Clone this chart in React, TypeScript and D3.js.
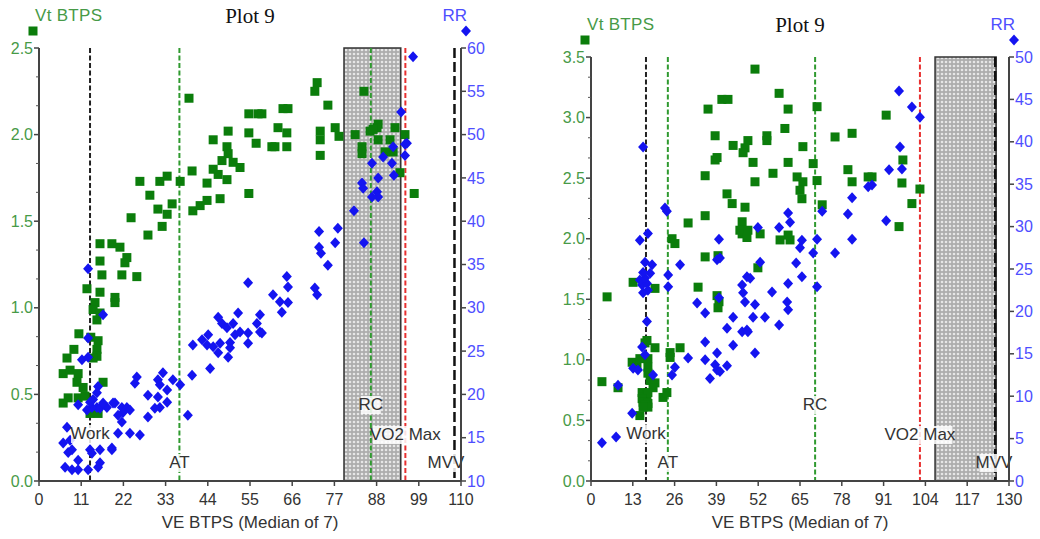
import React from 'react';
import * as d3 from 'd3';

// VE BTPS vs Vt BTPS (green squares) and RR (blue diamonds)
const leftVt: [number, number][] = [
  [39.1, 2.21], [54.7, 2.12], [57.1, 2.12], [49.3, 2.02], [45.4, 1.97], [54.7, 2.01], [56.6, 1.95], [49, 1.93],
  [49.3, 1.89], [47.7, 1.85], [50.6, 1.84], [52.4, 1.81], [45.4, 1.8], [46.7, 1.77], [49, 1.74], [39.9, 1.79],
  [43.8, 1.72], [36.8, 1.73], [33.4, 1.76], [31.5, 1.73], [26.3, 1.73], [28.9, 1.65], [34.7, 1.6], [31, 1.57],
  [33.4, 1.54], [32.1, 1.47], [28.4, 1.42], [24, 1.52], [40.1, 1.56], [42, 1.59], [43.8, 1.62], [47.2, 1.63],
  [54.7, 1.66], [15.9, 1.37], [19, 1.37], [21.1, 1.35], [22.9, 1.29], [22.4, 1.26], [15.9, 1.27],
  [16.4, 1.19], [21.6, 1.19], [25.5, 1.18], [12.5, 1.11], [15.9, 1.09], [19.8, 1.06], [19.8, 1.03], [14.6, 1.03],
  [14.1, 0.99], [15.1, 0.93], [15.9, 0.97], [10.4, 0.85], [13.5, 0.83], [15.4, 0.81], [15.1, 0.76], [15.1, 0.72],
  [14.1, 0.71], [9.1, 0.76], [7.3, 0.71], [6.3, 0.62], [8.1, 0.64], [10.2, 0.62], [9.9, 0.57], [11.5, 0.54],
  [10.2, 0.48], [6.3, 0.45], [7.6, 0.48], [16.7, 0.57], [13.3, 0.39], [15.4, 0.39], [12, 0.49],
  [72.5, 2.3], [71.9, 2.25], [75.3, 2.17], [58.1, 2.12], [63.6, 2.15], [64.9, 2.15], [62.3, 2.04], [64.6, 2.01],
  [64.6, 1.93], [60.7, 1.93], [61.5, 1.93], [73.3, 2.02], [73.3, 1.97], [73.3, 1.88], [77.2, 2.04], [78.2, 1.99],
  [82.4, 2.0], [84.7, 2.25], [88.4, 2.06], [88.1, 2.04], [86.3, 2.02], [87.1, 2.03], [88.4, 1.97], [84.2, 1.93],
  [84.2, 1.89], [91.5, 1.97], [92.3, 1.9], [92.8, 2.04], [95.4, 2.0], [90.2, 1.9], [94.1, 1.78], [97.8, 1.66],
];

const leftRR: [number, number][] = [
  [97.5, 59], [94.4, 52.6], [92.3, 48.6], [95.4, 48.9], [95.9, 49.0], [95.4, 47.6], [89.7, 47.4], [92, 46.7],
  [86.8, 46.7], [92.5, 45.3], [88.4, 45], [84.2, 44.4], [84.5, 43.8], [88.1, 43.4], [88.4, 42.8], [86.8, 42.8],
  [82.1, 41.2], [84.7, 37.5], [73, 38.8], [77.9, 39.2], [77.2, 37.5], [73, 37], [73.5, 36.3], [75.3, 34.9],
  [64.6, 33.6], [64.9, 32.4], [61, 31.5], [62.8, 30.7], [64.9, 30.6], [63.3, 29.5], [57.6, 29.2], [58.1, 27.1],
  [71.9, 32.3], [72.5, 31.5],
  [12.8, 34.5], [54.5, 32.9], [51.9, 29.4], [46.7, 28.9], [47.7, 28.2], [49, 27.7], [50.6, 28.2], [44.1, 26.9],
  [42.5, 26.3], [40.1, 25.7], [43.8, 25.7], [45.4, 25.5], [47.2, 25.9], [49.8, 26], [49.8, 25.4], [51.1, 26.9],
  [52.4, 27.2], [56.8, 28.2], [57.6, 27.2], [54.5, 27.1], [54.5, 25.9], [46.7, 24.8], [49.3, 24.3], [44.6, 23],
  [39.9, 22.2], [36.8, 21.1], [34.9, 21.7], [32.3, 22.5], [31, 21.7], [31.5, 21.1], [33.4, 20.5], [31, 19.7],
  [33.4, 19.1], [31.5, 18.5], [30.2, 18.4], [28.4, 19.9], [28.4, 17.4], [38.8, 17.6], [25.5, 22], [25, 21.3],
  [21.6, 18.5], [22.9, 18.5], [23.7, 18.2], [21.9, 17.9], [21.6, 16.8], [20.6, 17.6], [19.8, 19], [19.3, 19],
  [17.7, 18.5], [20.6, 15.5], [23.7, 15.5], [26.3, 15.3], [19, 13.8], [15.4, 20.9], [15.1, 20.2], [14.1, 19.4],
  [15.1, 18.5], [15.9, 18.4], [16.7, 19], [13.8, 18.5], [10.2, 18.8], [13.3, 19.1], [12.5, 18.2], [12.8, 26.5],
  [11.2, 24], [12.8, 24.3], [16.7, 29.2],
  [6.3, 14.4], [7.6, 13.3], [8.6, 13.6], [10.2, 12.4], [6.8, 11.6], [8.6, 11.3], [10.2, 11.3], [12.8, 11.3],
  [13.3, 13.6], [13.8, 13.2], [15.9, 13.6], [15.9, 12.1], [15.4, 11.6], [19, 13.6], [7.3, 16.2], [8.1, 14.7],
];

const rightVt: [number, number][] = [
  [51, 3.4], [36.4, 3.07], [40.7, 3.15], [42.6, 3.15], [58.5, 3.2], [61.3, 3.07], [60.3, 2.91], [38.6, 2.85],
  [54.7, 2.85], [54.7, 2.81], [44.2, 2.77], [48.8, 2.81], [47.9, 2.75], [47.3, 2.71], [39.2, 2.67], [38.6, 2.65],
  [50.4, 2.63], [61.3, 2.63], [65.9, 2.76], [56.6, 2.54], [35.5, 2.52], [64.1, 2.51], [65.9, 2.47], [51, 2.47],
  [42.3, 2.37], [43.9, 2.29], [47.9, 2.26], [65, 2.4], [65.6, 2.33], [35.5, 2.19], [30.2, 2.13], [47, 2.14],
  [46.3, 2.07], [47, 2.04], [48.8, 2.07], [48.5, 2.01], [52.6, 2.04], [58.8, 1.99], [61.9, 1.99], [61.3, 2.03],
  [25.2, 2.0], [26.1, 1.96], [35.5, 1.85], [39.5, 1.86], [51.9, 1.76],
  [70.3, 3.09], [75.9, 2.84], [81.2, 2.87], [91.8, 3.02], [69.1, 2.62], [70.3, 2.48], [79.9, 2.57], [81.2, 2.47],
  [86.2, 2.51], [87.4, 2.51], [97, 2.65], [96.7, 2.46], [102.3, 2.41], [99.8, 2.29], [95.8, 2.1], [71.9, 2.28],
  [13.1, 1.64], [5, 1.52], [19.9, 1.59], [33.3, 1.6], [39.2, 1.53], [39.8, 1.48], [39.5, 1.43], [17.4, 1.16],
  [16.8, 1.14], [19.9, 1.1], [27.7, 1.1], [24.6, 1.06], [24.6, 1.02], [12.8, 0.98], [14.3, 0.96], [15.2, 1.01],
  [17.7, 1.01], [3.4, 0.82], [8.4, 0.77], [17.7, 0.94], [17.7, 0.89], [18.4, 0.83], [19.9, 0.81], [19.3, 0.77],
  [15.9, 0.73], [16.2, 0.69], [17.4, 0.71], [17.7, 0.73], [15.9, 0.68], [16.2, 0.65], [17.7, 0.64], [16.8, 0.63],
  [17.7, 0.61], [16.2, 0.61], [15.2, 0.54], [22.4, 0.69], [23.6, 0.73],
];

const rightRR: [number, number][] = [
  [16.2, 39.4], [23, 32.2], [23.6, 31.8], [17.7, 29.2], [15.2, 28.4], [39.8, 28.5], [51.9, 29.9], [58.5, 29.9],
  [61.3, 31.6], [61.9, 30.5], [65.6, 28.4], [65, 27.5], [16.8, 25.8], [19, 25.5], [27.7, 25.5], [39.2, 26.1],
  [40.1, 26.3], [52.6, 25.8], [63.8, 25.7],
  [95.8, 46], [99.8, 44.1], [102.3, 42.9], [96.1, 39.4], [92.7, 36.7], [96.7, 36.8], [86.2, 34.7], [87.4, 34.9],
  [81.2, 33.4], [71.9, 31.8], [79.9, 31.5], [91.8, 30.7], [81.2, 28.5], [70.3, 28.5], [69.1, 26.9], [75.9, 26.9],
  [65.6, 24.1], [70.3, 22.9],
  [3.4, 4.5], [7.8, 5.2], [12.8, 8], [8.4, 11.3], [13.1, 13.3], [14.6, 13.1], [15.9, 15.8], [16.8, 14.9],
  [19.3, 12.5], [17.4, 18.8], [15.9, 23.1], [17.4, 23.3], [17.7, 22.5], [16.2, 22.2], [15.2, 23.7], [16.8, 23.9],
  [18.4, 24.5], [16.2, 24.6], [24, 22.9], [24, 24.3], [26.1, 13.4], [25.2, 12.5], [30.2, 14.5], [33, 21],
  [35.5, 19.8], [35.5, 16.4], [35.5, 14.3], [37, 12.1], [38.6, 13.7], [39.2, 13.1], [40.1, 12.9], [42.3, 13.6],
  [39.2, 15.1], [39.8, 21.6], [42.3, 18], [44.2, 19.3], [44.2, 16], [47, 23.1], [47.3, 22.2], [47.9, 21.1],
  [47, 17.6], [48.5, 17.8], [48.8, 17.6], [48.5, 24.1], [49.5, 23.9], [51, 20.8], [50.4, 19.3], [51, 15.1],
  [54.1, 19.3], [56.3, 22.3], [58.5, 18.4], [61, 21.1], [61.3, 20.2], [61.3, 23.3],
];

// threshold lines: Work, AT, RC, VO2 Max, MVV
const markerNames = ['Work', 'AT', 'RC', 'VO2 Max', 'MVV'];
const leftMarkerValues = [13.3, 36.6, 86.5, 95.5, 108.3];
const rightMarkerValues = [17.1, 23.9, 69.7, 102.3, 125.7];
// shaded band (VE range)
const leftBand: [number, number] = [79.5, 94.3];
const rightBand: [number, number] = [107, 126];

const leftXTicks = d3.range(0, 111, 11);
const rightXTicks = d3.range(0, 131, 13);
const leftVtTicks = [0, 0.5, 1.0, 1.5, 2.0, 2.5];
const rightVtTicks = [0, 0.5, 1.0, 1.5, 2.0, 2.5, 3.0, 3.5];
const leftRRTicks = d3.range(10, 61, 5);
const rightRRTicks = d3.range(0, 51, 5);

const GREEN = '#0b7d0b';
const BLUE = '#1414f0';
const GREEN_TXT = '#479a47';
const BLUE_TXT = '#4e4eff';
const SANS = 'Liberation Sans, Arial, sans-serif';

const markerStyle: Record<string, { color: string; dash: string; w: number; dy: number }> = {
  Work: { color: '#222', dash: '5,2.5', w: 2, dy: -42 },
  AT: { color: '#2f9a2f', dash: '5,2.5', w: 2, dy: -13 },
  RC: { color: '#2f9a2f', dash: '5,2.5', w: 2, dy: -71 },
  'VO2 Max': { color: '#e83030', dash: '5,2.5', w: 2, dy: -41 },
  MVV: { color: '#111', dash: '10,4', w: 2.5, dy: -13 },
};

interface PanelProps {
  id: string;
  x0: number; x1: number; top: number; bottom: number;
  xTicks: number[]; vtTicks: number[]; rrTicks: number[];
  vt: [number, number][]; rr: [number, number][];
  markers: number[]; band: [number, number];
}

const fmt1 = d3.format('.1f');

const Panel: React.FC<PanelProps> = ({ id, x0, x1, top, bottom, xTicks, vtTicks, rrTicks, vt, rr, markers, band }) => {
  const x = d3.scaleLinear().domain([0, xTicks[xTicks.length - 1]]).range([x0, x1]);
  const yVt = d3.scaleLinear().domain([0, vtTicks[vtTicks.length - 1]]).range([bottom, top]);
  const yRR = d3.scaleLinear().domain([rrTicks[0], rrTicks[rrTicks.length - 1]]).range([bottom, top]);
  const step = vtTicks[1] - vtTicks[0];
  const minor = d3.range(0, vtTicks[vtTicks.length - 1], step / 3).filter((_, i) => i % 3 !== 0);
  const cx = (x0 + x1) / 2;
  const diamond = 'M0,-5.5L5,0L0,5.5L-5,0Z';

  return (
    <g>
      <defs>
        <pattern id={`dots-${id}`} width={4} height={4} patternUnits="userSpaceOnUse">
          <rect width={4} height={4} fill="#adadad" />
          <circle cx={2} cy={2} r={1.3} fill="#e6e6e6" />
        </pattern>
      </defs>
      {/* title + legend */}
      <text x={cx} y={top - 25} textAnchor="middle" fontFamily="Liberation Serif, Times New Roman, serif" fontSize={21} fill="#111">Plot 9</text>
      <text x={x0 - 4} y={top - 27} fontFamily={SANS} fontSize={17} fill={GREEN_TXT} textLength={67}>Vt BTPS</text>
      <rect x={x0 - 10.5} y={top - 21.5} width={9} height={9} fill={GREEN} />
      <text x={x1 + 6} y={top - 27} textAnchor="end" fontFamily={SANS} fontSize={17} fill={BLUE_TXT}>RR</text>
      <path d={diamond} transform={`translate(${x1 + 5},${top - 17})`} fill={BLUE} />

      {/* shaded band */}
      <rect x={x(band[0])} y={top} width={x(band[1]) - x(band[0])} height={bottom - top}
        fill={`url(#dots-${id})`} stroke="#333" strokeWidth={1.5} />

      {/* threshold lines */}
      {markers.map((v, i) => {
        const s = markerStyle[markerNames[i]];
        return (
          <line key={`m${i}`} x1={x(v)} x2={x(v)} y1={top} y2={bottom} stroke={s.color}
            strokeWidth={s.w} strokeDasharray={s.dash} />
        );
      })}

      {/* data */}
      {vt.map((d, i) => (
        <rect key={`v${i}`} x={x(d[0]) - 4.5} y={yVt(d[1]) - 4.5} width={9} height={9} fill={GREEN} />
      ))}
      {rr.map((d, i) => (
        <path key={`r${i}`} d={diamond} transform={`translate(${x(d[0])},${yRR(d[1])})`} fill={BLUE} />
      ))}

      {/* threshold labels */}
      {markers.map((v, i) => {
        const name = markerNames[i];
        const s = markerStyle[name];
        const w = name.length * 9 + 2;
        let lx = x(v);
        if (name === 'MVV') lx = Math.min(lx, x1 - 15);
        const ly = bottom + s.dy;
        return (
          <g key={`l${i}`}>
            <rect x={lx - w / 2} y={ly - 14} width={w} height={18} fill="#fff" opacity={0.85} />
            <text x={lx} y={ly} textAnchor="middle" fontFamily={SANS} fontSize={17} fill="#333">{name}</text>
          </g>
        );
      })}

      {/* axes */}
      <line x1={x0} x2={x0} y1={top} y2={bottom} stroke="#444" strokeWidth={2} />
      <line x1={x1} x2={x1} y1={top} y2={bottom} stroke="#444" strokeWidth={2} />
      <line x1={x0} x2={x1} y1={bottom} y2={bottom} stroke="#444" strokeWidth={2} />

      {vtTicks.map(t => (
        <g key={`vt${t}`}>
          <line x1={x0 - 5} x2={x0} y1={yVt(t)} y2={yVt(t)} stroke="#444" strokeWidth={1.5} />
          <text x={x0 - 6} y={yVt(t)} dy="0.35em" textAnchor="end" fontFamily={SANS} fontSize={16} fill={GREEN_TXT}>{fmt1(t)}</text>
        </g>
      ))}
      {minor.map((t, i) => (
        <line key={`mn${i}`} x1={x0 - 3} x2={x0} y1={yVt(t)} y2={yVt(t)} stroke="#555" strokeWidth={1} />
      ))}
      {rrTicks.map(t => (
        <g key={`rr${t}`}>
          <line x1={x1} x2={x1 + 5} y1={yRR(t)} y2={yRR(t)} stroke="#444" strokeWidth={1.5} />
          <text x={x1 + 6} y={yRR(t)} dy="0.35em" fontFamily={SANS} fontSize={16} fill={BLUE_TXT}>{t}</text>
        </g>
      ))}
      {xTicks.map(t => (
        <g key={`x${t}`}>
          <line x1={x(t)} x2={x(t)} y1={bottom} y2={bottom + 5} stroke="#444" strokeWidth={1.5} />
          <text x={x(t)} y={bottom + 24} textAnchor="middle" fontFamily={SANS} fontSize={16} fill="#333">{t}</text>
        </g>
      ))}
      <text x={cx} y={bottom + 47} textAnchor="middle" fontFamily={SANS} fontSize={17} fill="#333">VE BTPS (Median of 7)</text>
    </g>
  );
};

const App: React.FC = () => (
  <svg width={1040} height={539} style={{ position: 'absolute', left: 0, top: 0, background: '#fff' }}>
    <rect width={1040} height={539} fill="#fff" />
    <Panel id="a" x0={39} x1={461} top={48} bottom={481} xTicks={leftXTicks} vtTicks={leftVtTicks}
      rrTicks={leftRRTicks} vt={leftVt} rr={leftRR} markers={leftMarkerValues} band={leftBand} />
    <Panel id="b" x0={591} x1={1009} top={57} bottom={481} xTicks={rightXTicks} vtTicks={rightVtTicks}
      rrTicks={rightRRTicks} vt={rightVt} rr={rightRR} markers={rightMarkerValues} band={rightBand} />
  </svg>
);

export default App;
